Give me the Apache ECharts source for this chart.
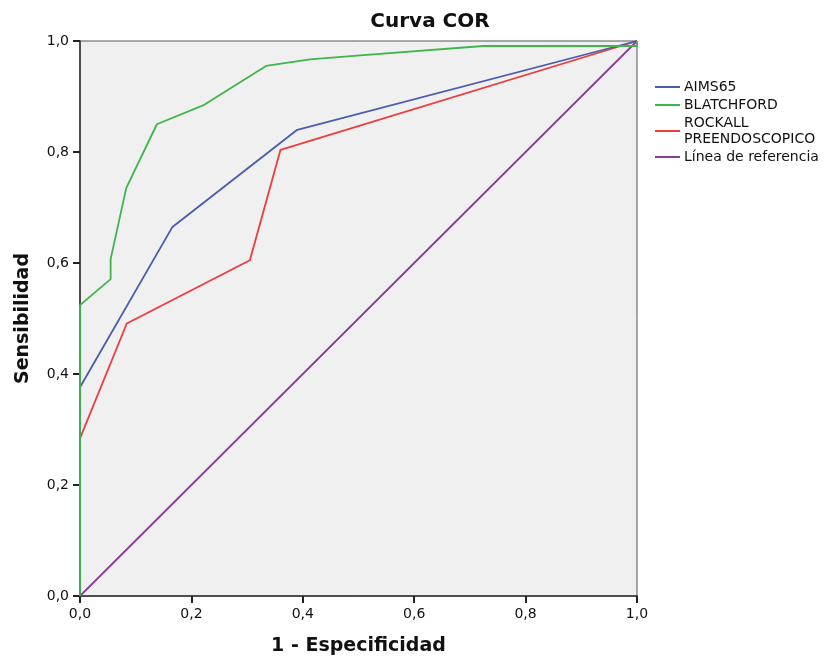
<!DOCTYPE html>
<html>
<head>
<meta charset="utf-8">
<script src="https://cdn.jsdelivr.net/npm/echarts@6/dist/echarts.min.js"></script>
<style>html,body{margin:0;padding:0;background:#fff;}#c{width:832px;height:663px;}</style>
</head>
<body>
<div id="c"></div>
<script>
const tickValues = [0, 0.2, 0.4, 0.6, 0.8, 1.0];
const aimsX = [0, 0, 0.166, 0.390, 1];
const aimsY = [0, 0.376, 0.665, 0.840, 1];
const blatchX = [0, 0, 0.055, 0.055, 0.083, 0.138, 0.223, 0.334, 0.413, 0.503, 0.724, 1, 1];
const blatchY = [0, 0.524, 0.571, 0.607, 0.735, 0.850, 0.885, 0.955, 0.967, 0.974, 0.991, 0.991, 1];
const rockX = [0, 0, 0.084, 0.305, 0.360, 1];
const rockY = [0, 0.284, 0.491, 0.605, 0.804, 1];
const refX = [0, 1];
const refY = [0, 1];
const names = ['AIMS65', 'BLATCHFORD', 'ROCKALL PREENDOSCOPICO', 'Línea de referencia'];
const colors = ['#4a5cae', '#3fb54a', '#ee3b3b', '#8a3e98'];

const pairs = (xs, ys) => xs.map((x, i) => [x, ys[i]]);
const fmt = v => v.toFixed(1).replace('.', ',');
const font = 'DejaVu Sans';

const chart = echarts.init(document.getElementById('c'));
chart.setOption({
  animation: false,
  title: {
    text: 'Curva COR', left: 425, top: 7, textAlign: 'center',
    textStyle: { fontFamily: font, fontSize: 20, fontWeight: 'bold', color: '#111' }
  },
  grid: { left: 80, right: 195, top: 41, bottom: 67, containLabel: false, outerBoundsMode: 'none', show: true, backgroundColor: '#f0f0f0', borderColor: '#555', borderWidth: 1 },
  legend: {
    orient: 'vertical', left: 655, top: 79, padding: 0, itemGap: 2, itemWidth: 25, itemHeight: 2, icon: 'rect',
    data: names,
    formatter: n => n === 'ROCKALL PREENDOSCOPICO' ? 'ROCKALL\nPREENDOSCOPICO' : n,
    textStyle: { fontFamily: font, fontSize: 14, color: '#111', lineHeight: 16, padding: [0, 0, 0, -1] }
  },
  xAxis: {
    type: 'value', min: 0, max: 1, interval: 0.2,
    name: '1 - Especificidad', nameLocation: 'middle', nameGap: 41,
    nameTextStyle: { fontFamily: font, fontSize: 19, fontWeight: 'bold', color: '#111' },
    axisLine: { show: true, lineStyle: { color: '#333', width: 1.5 } },
    axisTick: { show: true, inside: false, length: 7, lineStyle: { color: '#222', width: 2 } },
    axisLabel: { formatter: fmt, fontFamily: font, fontSize: 14, color: '#111', margin: 11 },
    splitLine: { show: false }
  },
  yAxis: {
    type: 'value', min: 0, max: 1, interval: 0.2,
    name: 'Sensibilidad', nameLocation: 'middle', nameGap: 47,
    nameTextStyle: { fontFamily: font, fontSize: 19, fontWeight: 'bold', color: '#111' },
    axisLine: { show: true, lineStyle: { color: '#333', width: 1.5 } },
    axisTick: { show: true, inside: false, length: 7, lineStyle: { color: '#222', width: 2 } },
    axisLabel: { formatter: fmt, fontFamily: font, fontSize: 14, color: '#111', margin: 11 },
    splitLine: { show: false }
  },
  series: [
    { name: names[3], type: 'line', data: pairs(refX, refY), showSymbol: false, lineStyle: { width: 1.8, color: colors[3] }, itemStyle: { color: colors[3] } },
    { name: names[2], type: 'line', data: pairs(rockX, rockY), showSymbol: false, lineStyle: { width: 1.8, color: colors[2] }, itemStyle: { color: colors[2] } },
    { name: names[0], type: 'line', data: pairs(aimsX, aimsY), showSymbol: false, lineStyle: { width: 1.8, color: colors[0] }, itemStyle: { color: colors[0] } },
    { name: names[1], type: 'line', data: pairs(blatchX, blatchY), showSymbol: false, lineStyle: { width: 1.8, color: colors[1] }, itemStyle: { color: colors[1] } }
  ]
});
</script>
</body>
</html>
